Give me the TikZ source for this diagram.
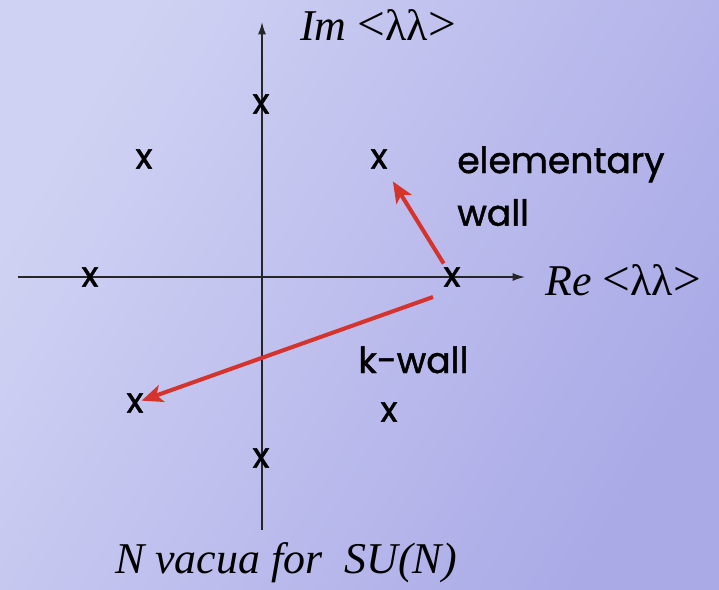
\documentclass[tikz,border=0pt]{standalone}
\usepackage{fontspec}
\setmainfont{Liberation Serif}
\newfontfamily\handfont[FakeBold=1.3]{Poppins}
\usetikzlibrary{arrows.meta}
\definecolor{bgtop}{RGB}{208,210,243}
\definecolor{bgbot}{RGB}{170,170,231}
\definecolor{wallred}{RGB}{212,52,45}

\begin{document}
\begin{tikzpicture}[x=0.02cm, y=-0.02cm,
    vac/.style={font=\handfont\fontsize{20}{24}\selectfont, inner sep=0pt},
    lbl/.style={font=\handfont\fontsize{20.5}{30}\selectfont, inner sep=0pt, align=left},
    axlabel/.style={font=\fontsize{25}{29}\selectfont, inner sep=0pt},
    axis/.style={-{Latex[length=7pt,width=4.5pt]}, line width=0.8pt, black!85},
    wall/.style={-{Stealth[length=12pt,width=10pt,inset=3pt]}, line width=2.3pt, wallred}
]
    \shade[top color=bgtop, bottom color=bgbot, shading angle=60] (0,0) rectangle (719,589);

    % axes
    \coordinate (xl) at (18,277);
    \coordinate (xr) at (525,277);
    \coordinate (yb) at (262,530);
    \coordinate (yt) at (262,22);
    \draw[axis] (xl) -- (xr);
    \draw[axis] (yb) -- (yt);

    \node[axlabel, anchor=base west] (imlab) at (300,40) {\textit{Im} {\fontsize{28}{29}\selectfont<}λλ{\fontsize{28}{29}\selectfont>}};
    \node[axlabel, anchor=base west] (relab) at (545,295) {\textit{Re} {\fontsize{28}{29}\selectfont<}λλ{\fontsize{28}{29}\selectfont>}};

    % the N vacua
    \node[vac] (v1) at (261,104) {x};
    \node[vac] (v2) at (144,159) {x};
    \node[vac] (v3) at (379,159) {x};
    \node[vac] (v4) at (90,277) {x};
    \node[vac] (v5) at (452,277) {x};
    \node[vac] (v6) at (135,403) {x};
    \node[vac] (v7) at (389,412) {x};
    \node[vac] (v8) at (261,458) {x};

    % walls
    \draw[wall, shorten <=9pt, shorten >=15pt] (v5.center) -- (v3.center);
    \draw[wall, shorten >=4pt] ([shift={(-19,20)}]v5.center) -- (v6.center);

    \node[lbl, anchor=north west] (elem) at (457,146) {elementary\\wall};
    \node[lbl, anchor=base west] (kwall) at (358,373) {k-wall};

    \node[font=\itshape\fontsize{25}{29}\selectfont, inner sep=0pt, anchor=base] (title) at (286,573) {N vacua for \ SU(N)};
\end{tikzpicture}
\end{document}
